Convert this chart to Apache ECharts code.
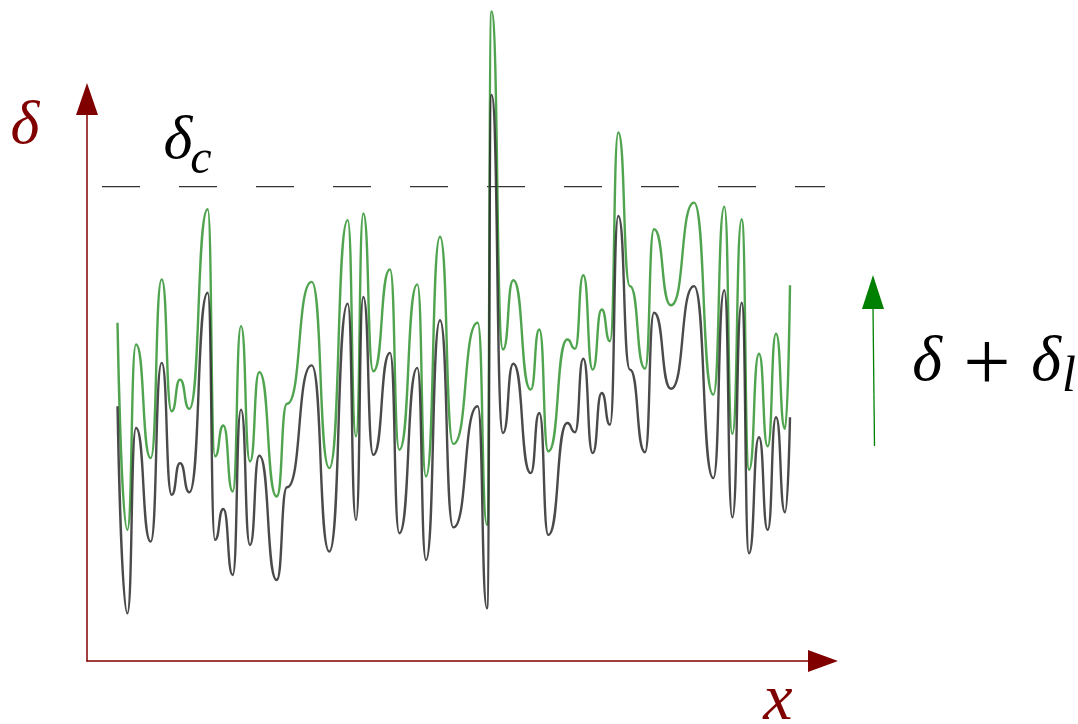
<!DOCTYPE html>
<html>
<head>
<meta charset="utf-8">
<script src="https://cdn.jsdelivr.net/npm/echarts@6/dist/echarts.min.js"></script>
<style>
html,body{margin:0;padding:0;background:#fff;}
#chart{width:1078px;height:724px;}
</style>
</head>
<body>
<div id="chart"></div>
<script>
// x positions of the curve's turning points (arbitrary x units)
const xPos = [3.05,4.03,4.90,6.37,7.47,8.47,9.30,10.23,12.07,12.80,
  13.63,14.57,15.40,16.30,17.23,18.97,20.00,22.47,24.23,26.07,
  26.90,27.63,28.63,30.30,31.23,33.03,33.90,35.30,36.63,39.07,
  40.00,40.45,41.60,42.63,44.37,45.23,46.13,48.03,48.80,49.63,
  50.57,51.47,52.30,53.13,54.30,55.80,56.70,58.40,60.70,62.63,
  63.73,64.53,65.47,66.20,67.20,68.07,68.90,69.80,70.30];
// delta (black curve)
const delta = [3.05,0.57,2.79,1.43,3.57,1.99,2.37,2.02,4.41,1.45,
  1.82,1.03,3.01,1.39,2.46,0.97,2.08,3.54,1.31,4.28,
  1.69,4.36,2.47,3.69,1.53,3.51,1.21,4.08,1.60,3.05,
  0.63,6.78,2.73,3.56,2.25,2.97,1.51,2.85,2.74,3.62,
  2.49,3.21,2.83,5.33,3.49,2.50,4.17,3.26,4.49,2.19,
  4.44,1.72,4.29,1.29,2.68,1.57,2.92,1.78,2.92];
// delta + delta_l (green curve)
const deltaPlus = [4.05,1.57,3.79,2.43,4.57,2.99,3.37,3.02,5.41,2.45,
  2.82,2.03,4.01,2.39,3.46,1.97,3.08,4.54,2.31,5.28,
  2.69,5.36,3.47,4.69,2.53,4.51,2.21,5.08,2.60,4.05,
  1.63,7.78,3.73,4.56,3.25,3.97,2.51,3.85,3.74,4.62,
  3.49,4.21,3.83,6.33,4.49,3.50,5.17,4.26,5.49,3.19,
  5.44,2.72,5.29,2.29,3.68,2.57,3.92,2.78,4.50];
// critical threshold delta_c
const deltaC = 5.68;
const critX = [1.5, 74.3];

const blackData = xPos.map((x, i) => [x, delta[i]]);
const greenData = xPos.map((x, i) => [x, deltaPlus[i]]);
const critData = critX.map(x => [x, deltaC]);

const RED = '#800000';
const chart = echarts.init(document.getElementById('chart'), null, {renderer: 'canvas'});
const serifI = '"Liberation Serif", "DejaVu Serif", serif';

chart.setOption({
  animation: false,
  backgroundColor: '#ffffff',
  grid: {left: 87, top: 99, width: 736, height: 562, containLabel: false},
  xAxis: {
    type: 'value', min: 0, max: 73.6,
    axisLine: {show: true, onZero: false, symbol: ['none', 'triangle'], symbolSize: [22, 30],
      lineStyle: {color: RED, width: 1.5}},
    axisTick: {show: false}, axisLabel: {show: false}, splitLine: {show: false}
  },
  yAxis: {
    type: 'value', min: 0, max: 6.7305,
    axisLine: {show: true, onZero: false, symbol: ['none', 'triangle'], symbolSize: [22, 32],
      lineStyle: {color: RED, width: 1.5}},
    axisTick: {show: false}, axisLabel: {show: false}, splitLine: {show: false}
  },
  series: [
    {
      type: 'line', data: critData, showSymbol: false, clip: false, silent: true,
      lineStyle: {color: '#333333', width: 1.3, type: [38, 39]}
    },
    {
      type: 'line', data: greenData, showSymbol: false, clip: false,
      smooth: 0.6, smoothMonotone: 'x',
      lineStyle: {color: '#3d9a3d', width: 2.4, opacity: 0.9}
    },
    {
      type: 'line', data: blackData, showSymbol: false, clip: false,
      smooth: 0.6, smoothMonotone: 'x',
      lineStyle: {color: '#2a2a2a', width: 2.4, opacity: 0.85}
    }
  ],
  graphic: [
    {type: 'text', x: 25, y: 127, style: {text: 'δ', font: 'italic 62px ' + serifI, fill: RED,
      align: 'center', textAlign: 'center', verticalAlign: 'middle', textVerticalAlign: 'middle'}},
    {type: 'text', x: 178, y: 142, style: {text: 'δ', font: 'italic 62px ' + serifI, fill: '#000',
      align: 'center', textAlign: 'center', verticalAlign: 'middle', textVerticalAlign: 'middle'}},
    {type: 'text', x: 201, y: 160, style: {text: 'c', font: 'italic 48px ' + serifI, fill: '#000',
      align: 'center', textAlign: 'center', verticalAlign: 'middle', textVerticalAlign: 'middle'}},
    {type: 'text', x: 927, y: 363, style: {text: 'δ', font: 'italic 64px ' + serifI, fill: '#000',
      align: 'center', textAlign: 'center', verticalAlign: 'middle', textVerticalAlign: 'middle'}},
    {type: 'text', x: 987, y: 368, style: {text: '+', font: '84px ' + serifI, fill: '#000',
      align: 'center', textAlign: 'center', verticalAlign: 'middle', textVerticalAlign: 'middle'}},
    {type: 'text', x: 1046, y: 363, style: {text: 'δ', font: 'italic 64px ' + serifI, fill: '#000',
      align: 'center', textAlign: 'center', verticalAlign: 'middle', textVerticalAlign: 'middle'}},
    {type: 'text', x: 1069, y: 378, style: {text: 'l', font: 'italic 50px ' + serifI, fill: '#000',
      align: 'center', textAlign: 'center', verticalAlign: 'middle', textVerticalAlign: 'middle'}},
    {type: 'text', x: 778, y: 702, style: {text: 'x', font: 'italic 66px ' + serifI, fill: RED,
      align: 'center', textAlign: 'center', verticalAlign: 'middle', textVerticalAlign: 'middle'}},
    {type: 'line', shape: {x1: 873, y1: 308, x2: 874.5, y2: 446}, style: {stroke: '#008000', lineWidth: 1.3}},
    {type: 'polygon', shape: {points: [[873, 275], [884, 309], [862, 309]]}, style: {fill: '#008000'}}
  ]
});
</script>
</body>
</html>
